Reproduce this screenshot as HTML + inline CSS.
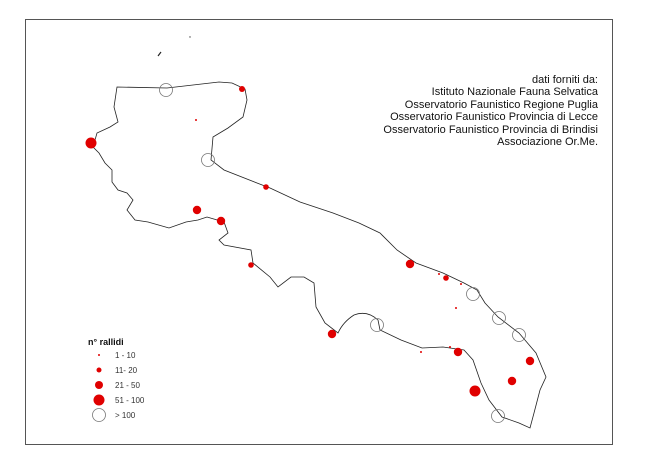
<!DOCTYPE html>
<html><head><meta charset="utf-8"><style>
body{margin:0;background:#fff;}
svg{display:block;font-family:"Liberation Sans",sans-serif;}
</style></head><body>
<svg width="654" height="463" viewBox="0 0 654 463" xmlns="http://www.w3.org/2000/svg">
<rect x="25.5" y="19.5" width="587" height="425" fill="#fff" stroke="#555" stroke-width="1"/>
<path d="M117,87 L167,88 L219,82 L232,83 L245,89 L247,100 L243,117 L228,128 L213,137 L211,160 L224,170 L257,183 L270,188 L300,202 L333,213 L359,223 L380,233 L397,250 L416,263 L443,273 L464,283 L477,290 L485,303 L498,317 L519,333 L536,353 L546,377 L540,390 L534,413 L530,428 L519,423 L502,417 L489,400 L481,383 L473,360 L464,350 L443,347 L422,348 L401,340 L380,330 L378,320 Q367,310 354,315 Q343,322 338,333 L325,323 L316,307 L314,283 L304,277 L291,277 L278,287 L270,277 L253,263 L251,250 L224,245 L219,240 L228,233 L224,222 L207,217 L198,220 L186,222 L169,228 L148,222 L135,220 L127,210 L133,200 L127,193 L118,190 L112,182 L112,170 L105,163 L99,153 L93,147 L97,133 L110,127 L118,122 L114,107 Z" fill="none" stroke="#222" stroke-width="0.8"/>
<path d="M158,56 L161,52" stroke="#222" stroke-width="1.2"/>
<circle cx="190" cy="37" r="0.7" fill="#444"/>
<g fill="#e00000">
<circle cx="242" cy="89" r="3"/><circle cx="196" cy="120" r="1"/><circle cx="91" cy="143" r="5.5"/>
<circle cx="266" cy="187" r="2.8"/><circle cx="197" cy="210" r="4.2"/><circle cx="221" cy="221" r="4.2"/>
<circle cx="251" cy="265" r="2.8"/><circle cx="410" cy="264" r="4.2"/><circle cx="446" cy="278" r="2.8"/>
<circle cx="439" cy="274" r="1"/><circle cx="461" cy="284" r="1"/><circle cx="456" cy="308" r="1"/>
<circle cx="332" cy="334" r="4.2"/><circle cx="421" cy="352" r="1"/><circle cx="450" cy="347" r="1"/>
<circle cx="458" cy="352" r="4.2"/><circle cx="530" cy="361" r="4.2"/><circle cx="512" cy="381" r="4.2"/>
<circle cx="475" cy="391" r="5.5"/>
</g>
<g fill="none" stroke="#777" stroke-width="0.8">
<circle cx="166" cy="90" r="6.5"/><circle cx="208" cy="160" r="6.5"/><circle cx="473" cy="294" r="6.5"/>
<circle cx="499" cy="318" r="6.5"/><circle cx="519" cy="335" r="6.5"/><circle cx="377" cy="325" r="6.5"/>
<circle cx="498" cy="416" r="6.5"/>
</g>
<g font-size="11" fill="#111" text-anchor="end">
<text x="598" y="83">dati forniti da:</text>
<text x="598" y="95">Istituto Nazionale Fauna Selvatica</text>
<text x="598" y="108">Osservatorio Faunistico Regione Puglia</text>
<text x="598" y="120">Osservatorio Faunistico Provincia di Lecce</text>
<text x="598" y="133">Osservatorio Faunistico Provincia di Brindisi</text>
<text x="598" y="145">Associazione Or.Me.</text>
</g>
<text x="88" y="345" font-size="9" font-weight="bold" fill="#111">n° rallidi</text>
<g fill="#e00000">
<circle cx="99" cy="355" r="1"/><circle cx="99" cy="370" r="2.5"/><circle cx="99" cy="385" r="4"/><circle cx="99" cy="400" r="5.5"/>
</g>
<circle cx="99" cy="415" r="6.5" fill="none" stroke="#777" stroke-width="0.8"/>
<g font-size="8" fill="#333">
<text x="115" y="358">1 - 10</text><text x="115" y="373">11- 20</text><text x="115" y="388">21 - 50</text>
<text x="115" y="403">51 - 100</text><text x="115" y="418">&gt; 100</text>
</g>
</svg>
</body></html>
